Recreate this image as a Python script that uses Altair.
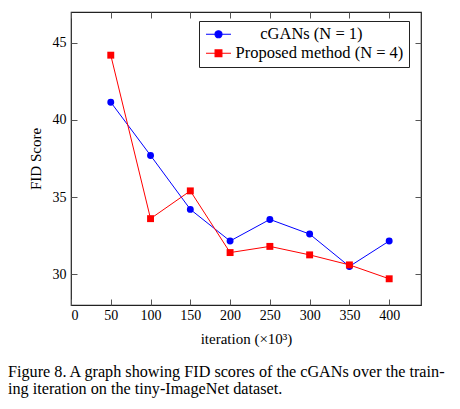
import altair as alt
import pandas as pd

# FID scores (iteration in thousands)
iterations = [50, 100, 150, 200, 250, 300, 350, 400]
cgan_fid = [41.15, 37.7, 34.2, 32.15, 33.55, 32.6, 30.5, 32.15]
proposed_fid = [44.2, 33.6, 35.4, 31.4, 31.8, 31.25, 30.6, 29.7]

series_names = ["cGANs (N = 1)", "Proposed method (N = 4)"]
series_colors = ["#0000ff", "#ff0000"]
series_shapes = ["circle", "square"]
# legend symbols: short line with the marker in its middle
# (path runs -1..3 so the slot stays small while the line is ~25px long)
legend_paths = [
    "M-1,0L3,0M0.44,0A0.56,0.56,0,1,1,1.56,0A0.56,0.56,0,1,1,0.44,0Z",
    "M-1,0L3,0M0.46,-0.54L1.54,-0.54L1.54,0.54L0.46,0.54Z",
]

x_ticks = [0, 50, 100, 150, 200, 250, 300, 350, 400]
y_ticks = [30, 35, 40, 45]

caption = [
    "Figure 8. A graph showing FID scores of the cGANs over the train-",
    "ing iteration on the tiny-ImageNet dataset.",
]

df = pd.DataFrame({
    "iteration": iterations * 2,
    "fid": cgan_fid + proposed_fid,
    "series": [series_names[0]] * len(iterations) + [series_names[1]] * len(iterations),
})

FONT = "Liberation Serif"
x_scale = alt.Scale(domain=[0, 440], nice=False, zero=False)
y_scale = alt.Scale(domain=[28, 47], nice=False, zero=False)

# inward ticks: pull each axis inside the frame by the tick length
tick_len = 6
bottom_axis = alt.Axis(
    orient="bottom", values=x_ticks, offset=-tick_len, tickSize=tick_len,
    domain=False, grid=False, labelPadding=3, format="d",
    title="iteration (×10³)", titlePadding=9,
)
left_axis = alt.Axis(
    orient="left", values=y_ticks, offset=-tick_len, tickSize=tick_len,
    domain=False, grid=False, labelPadding=5,
    title="FID Score", titlePadding=9,
)
top_axis = alt.Axis(
    orient="top", values=x_ticks, offset=-tick_len, tickSize=tick_len,
    domain=False, grid=False, labels=False, title=None,
)
right_axis = alt.Axis(
    orient="right", values=y_ticks, offset=-tick_len, tickSize=tick_len,
    domain=False, grid=False, labels=False, title=None,
)

base = alt.Chart(df)

frame_axes = base.mark_point(opacity=0).encode(
    x=alt.X("iteration:Q", scale=x_scale, axis=bottom_axis),
    y=alt.Y("fid:Q", scale=y_scale, axis=left_axis),
)
other_axes = base.mark_point(opacity=0).encode(
    x=alt.X("iteration:Q", scale=x_scale, axis=top_axis),
    y=alt.Y("fid:Q", scale=y_scale, axis=right_axis),
)

layers = [frame_axes, other_axes]
for name, color, shape in zip(series_names, series_colors, series_shapes):
    sub = base.transform_filter(alt.datum.series == name)
    line = sub.mark_line(color=color, strokeWidth=1).encode(
        x=alt.X("iteration:Q", scale=x_scale, axis=None),
        y=alt.Y("fid:Q", scale=y_scale, axis=None),
    )
    pts = sub.mark_point(filled=True, shape=shape, color=color, size=48, opacity=1).encode(
        x=alt.X("iteration:Q", scale=x_scale, axis=None),
        y=alt.Y("fid:Q", scale=y_scale, axis=None),
    )
    layers += [line, pts]

# legend only layer (no marks drawn, domains are explicit)
# zero-width space first so the padding survives trimming, then no-break spaces
pad = "\u200b" + "\u00a0" * 6
legend = alt.Legend(
    title=None, orient="none", legendX=128, legendY=9,
    fillColor="white", strokeColor="#222", padding=5,
    labelFont=FONT, labelFontSize=16.5, labelColor="black", labelOffset=15,
    labelLimit=300, symbolSize=156, symbolStrokeWidth=1.2, rowPadding=2,
    labelExpr=f"datum.label == '{series_names[0]}' ? '{pad}' + datum.label : datum.label",
)
legend_layer = base.transform_filter("datum.fid < 0").mark_point(filled=True, opacity=1).encode(
    x=alt.X("iteration:Q", scale=x_scale, axis=None),
    y=alt.Y("fid:Q", scale=y_scale, axis=None),
    fill=alt.Fill("series:N", scale=alt.Scale(domain=series_names, range=series_colors), legend=legend),
    stroke=alt.Stroke("series:N", scale=alt.Scale(domain=series_names, range=series_colors), legend=legend),
    shape=alt.Shape("series:N", scale=alt.Scale(domain=series_names, range=legend_paths), legend=legend),
)
layers.append(legend_layer)

chart = (
    alt.layer(*layers)
    .resolve_axis(x="independent", y="independent")
    .properties(
        width=350,
        height=293,
        padding={"left": 63, "top": 4, "right": 31, "bottom": 94},
        autosize=alt.AutoSizeParams(type="none"),
        title=alt.Title(
            text=caption, orient="bottom", anchor="start", frame="group",
            font=FONT, fontSize=16.2, fontWeight="normal", color="black",
            lineHeight=17, dx=-63, offset=18,
        ),
    )
    .configure_view(stroke="#222", strokeWidth=1.2)
    .configure_axis(
        labelFont=FONT, labelFontSize=14, labelColor="black",
        titleFont=FONT, titleFontSize=15, titleFontWeight="normal", titleColor="black",
        tickColor="#555", tickWidth=1,
    )
)

chart.save("out.html", embed_options={"renderer": "svg", "actions": False})
